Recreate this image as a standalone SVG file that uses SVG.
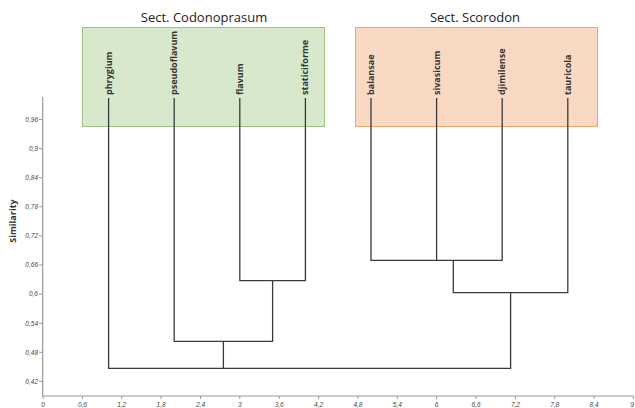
<svg xmlns="http://www.w3.org/2000/svg" width="635" height="408" viewBox="0 0 635 408">
<style>
.title{font-family:"Open Sans","Liberation Sans",sans-serif;font-size:13px;fill:#222}
.leaf{font-family:"Open Sans","Liberation Sans",sans-serif;font-size:9px;font-weight:bold;fill:#333}
.tick{font-family:"Liberation Sans",sans-serif;font-size:6.5px;font-style:italic;fill:#444}
.axis{stroke:#999;stroke-width:1.2;fill:none}
.tk{stroke:#999;stroke-width:1}
.br{stroke:#3a3a3a;stroke-width:1.3;fill:none}
</style>
<rect width="635" height="408" fill="#fff"/>
<g id="sect-codonoprasum">
<rect x="82.5" y="27.5" width="242" height="99" fill="#d8e8cc" stroke="#9cc47e" stroke-width="1"/>
<text class="title" x="204" y="22" text-anchor="middle">Sect. Codonoprasum</text>
</g>
<g id="sect-scorodon">
<rect x="355.5" y="27.5" width="242" height="99" fill="#f9d9c3" stroke="#eea66c" stroke-width="1"/>
<text class="title" x="475" y="22" text-anchor="middle">Sect. Scorodon</text>
</g>
<g id="axes">
<path class="axis" d="M42.7 97V396H634"/>
<g class="tk">
<path d="M39 119.5h4M39 148.6h4M39 177.7h4M39 206.8h4M39 235.9h4M39 265h4M39 294.1h4M39 323.2h4M39 352.3h4M39 381.4h4"/>
<path d="M43 396v3M82.4 396v3M121.7 396v3M161.1 396v3M200.5 396v3M239.8 396v3M279.2 396v3M318.6 396v3M357.9 396v3M397.3 396v3M436.6 396v3M476 396v3M515.4 396v3M554.7 396v3M594.1 396v3M633.4 396v3"/>
</g>
<g class="tick" text-anchor="end">
<text x="38" y="121.8">0,96</text><text x="38" y="150.9">0,9</text><text x="38" y="180">0,84</text><text x="38" y="209.1">0,78</text><text x="38" y="238.2">0,72</text><text x="38" y="267.3">0,66</text><text x="38" y="296.4">0,6</text><text x="38" y="325.5">0,54</text><text x="38" y="354.6">0,48</text><text x="38" y="383.7">0,42</text>
</g>
<g class="tick" text-anchor="middle">
<text x="43" y="407">0</text><text x="82.4" y="407">0,6</text><text x="121.7" y="407">1,2</text><text x="161.1" y="407">1,8</text><text x="200.5" y="407">2,4</text><text x="239.8" y="407">3</text><text x="279.2" y="407">3,6</text><text x="318.6" y="407">4,2</text><text x="357.9" y="407">4,8</text><text x="397.3" y="407">5,4</text><text x="436.6" y="407">6</text><text x="476" y="407">6,6</text><text x="515.4" y="407">7,2</text><text x="554.7" y="407">7,8</text><text x="594.1" y="407">8,4</text><text x="632" y="407">9</text>
</g>
<text class="leaf" transform="translate(15.5 221) rotate(-90)" text-anchor="middle" font-size="10.5">Similarity</text>
</g>
<g id="leaves">
<text class="leaf" transform="translate(111.6 95) rotate(-90)">phrygium</text>
<text class="leaf" transform="translate(177.2 95) rotate(-90)">pseudoflavum</text>
<text class="leaf" transform="translate(242.8 95) rotate(-90)">flavum</text>
<text class="leaf" transform="translate(308.4 95) rotate(-90)">staticiforme</text>
<text class="leaf" transform="translate(374 95) rotate(-90)">balansae</text>
<text class="leaf" transform="translate(439.6 95) rotate(-90)">sivasicum</text>
<text class="leaf" transform="translate(505.2 95) rotate(-90)">djimilense</text>
<text class="leaf" transform="translate(570.8 95) rotate(-90)">tauricola</text>
</g>
<g id="connectors" class="br">
<path d="M239.8 98V280.7H305.4V98"/>
<path d="M174.2 98V341.3H272.6V280.7"/>
<path d="M108.6 98V368.3H510.6V292.7"/>
<path d="M223.4 341.3V368.3"/>
<path d="M371 98V260.3H502.2V98"/>
<path d="M436.6 98V260.3"/>
<path d="M453.3 260.3V292.7H567.8V98"/>
</g>
</svg>
